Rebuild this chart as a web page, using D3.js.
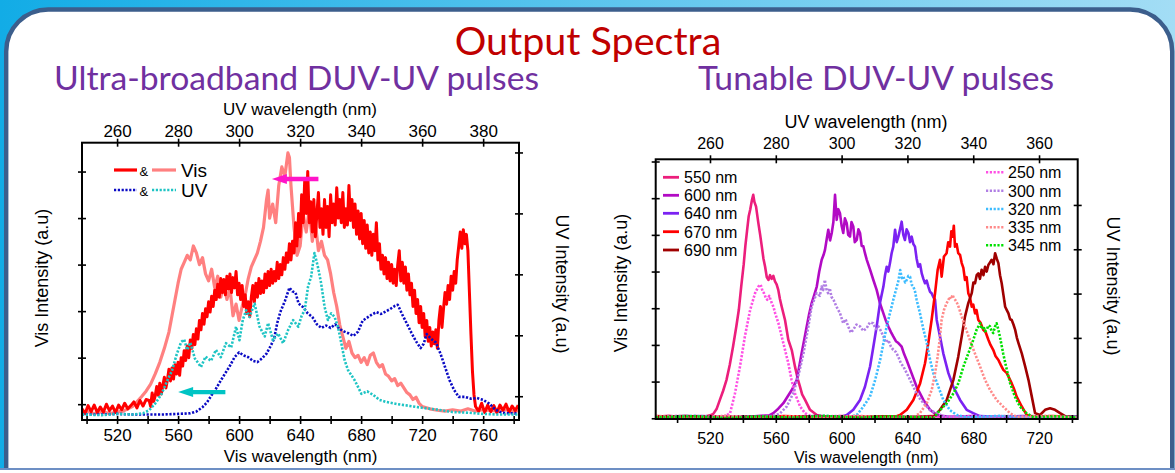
<!DOCTYPE html>
<html>
<head>
<meta charset="utf-8">
<script src="https://cdn.jsdelivr.net/npm/d3@7"></script>
<style>
  body { margin: 0; overflow: hidden; background: #fff; }
  svg { display: block; }
</style>
</head>
<body>
<svg id="chart"></svg>
<script>
const width = 1175;
const height = 473;

// ---------- left chart: ultra-broadband (Vis nm / UV nm, intensity a.u.) ----------
const visRedL = [
  [497,-1.0],[499,-2.0],[501,-0.3],[503,-1.6],[505,-0.2],[507,-1.8],[509,-0.6],[511,-1.7],[513,0.0],[515,-1.4],
  [517,-0.4],[519,-1.8],[521,-0.2],[523,-1.2],[525,0.2],[527,-1.0],[529,-0.3],[531,0.5],[533,-0.8],[535,0.8],
  [537,-0.4],[539,1.0],[541,0.8],[542,-0.5],[543,2.4],[544,0.6],[545,1.8],[546,3.8],[547,1.9],[548,4.5],
  [549,2.2],[550,4.0],[551,5.8],[552,3.5],[553,5.2],[554,7.5],[555,5.0],[556,7.8],[557,5.4],[558,8.5],
  [559,6.5],[560,9.0],[561,6.2],[562,10.0],[563,8.2],[564,11.5],[565,9.4],[566,12.5],[567,10.0],[568,13.8],
  [569,12.0],[570,15.0],[571,12.8],[572,16.2],[573,14.0],[574,18.0],[575,16.0],[576,19.5],[577,17.2],[578,20.5],
  [579,18.8],[580,22.0],[581,19.8],[582,23.2],[583,21.0],[584,24.5],[585,22.5],[586,25.8],[587,23.0],[588,27.0],
  [589,24.0],[590,26.8],[591,23.5],[592,27.5],[593,24.8],[594,28.0],[595,24.0],[596,27.2],[597,25.0],[598,28.5],
  [599,23.5],[600,26.0],[601,22.5],[602,25.5],[603,21.0],[604,23.5],[605,19.5],[606,22.0],[607,18.8],[608,23.0],
  [609,25.5],[610,22.0],[611,26.0],[612,23.0],[613,27.0],[614,23.8],[615,26.5],[616,24.0],[617,28.0],[618,25.0],
  [619,28.5],[620,25.5],[621,29.0],[622,26.0],[623,28.5],[624,26.5],[625,30.5],[626,27.0],[627,30.0],[628,27.8],
  [629,31.5],[630,29.0],[631,32.5],[632,30.5],[633,34.5],[634,31.0],[635,35.0],[636,32.5],[637,39.0],[638,34.0],
  [639,41.0],[640,36.0],[641,45.0],[642,39.0],[643,48.0],[644,41.0],[645,50.0],[646,39.0],[647,43.5],[648,37.0],
  [649,44.0],[650,36.0],[651,41.0],[652,45.5],[653,38.0],[654,42.0],[655,36.5],[656,44.0],[657,38.0],[658,42.5],
  [659,36.0],[660,45.0],[661,39.0],[662,43.0],[663,38.5],[664,46.5],[665,40.0],[666,44.0],[667,39.0],[668,45.5],
  [669,38.0],[670,42.0],[671,38.5],[672,47.0],[673,39.5],[674,44.0],[675,38.0],[676,43.0],[677,36.5],[678,41.5],
  [679,35.5],[680,41.0],[681,34.5],[682,39.5],[683,33.5],[684,38.5],[685,32.5],[686,37.0],[687,32.0],[688,36.5],
  [689,33.0],[690,39.0],[691,31.0],[692,34.5],[693,29.0],[694,32.0],[695,28.0],[696,31.5],[697,27.0],[698,30.5],
  [699,26.5],[700,30.0],[701,26.0],[702,29.0],[703,25.5],[704,30.0],[705,33.0],[706,26.5],[707,30.5],[708,26.0],
  [709,29.5],[710,24.5],[711,28.0],[712,23.5],[713,26.0],[714,21.0],[715,24.5],[716,19.5],[717,22.5],[718,17.5],
  [719,21.0],[720,16.5],[721,19.5],[722,14.5],[723,18.0],[724,13.5],[725,16.5],[726,12.5],[727,15.5],[728,13.0],
  [729,16.0],[730,12.0],[731,18.0],[732,21.0],[733,16.5],[734,20.5],[735,24.0],[736,21.5],[737,25.5],[738,22.5],
  [739,27.5],[740,24.5],[741,28.5],[742,26.0],[743,31.0],[744,34.0],[745,37.0],[746,33.5],[747,37.5],[748,34.5],
  [749,36.5],[750,33.0],[751,24.0],[752,15.0],[753,7.0],[754,2.0],[755,-0.5],[757,-1.5],[759,0.2],[761,-1.8],
  [763,-0.2],[765,-1.6],[767,-0.3],[769,-1.8],[771,-0.2],[773,-1.3],[775,0.0],[777,-1.7],[779,-0.4],[781,-1.4],
  [783,-0.2]
];
const visSalmonL = [
  [497,-1.8],[500,-1.5],[505,-2.0],[510,-1.6],[515,-2.0],[520,-1.7],[524,-1.5],[527,-1.0],[530,-0.5],[533,0.5],
  [536,1.6],[539,2.8],[542,4.3],[545,6.5],[548,9.0],[551,12.0],[554,15.5],[556,19.0],[558,22.5],[560,26.0],
  [562,29.0],[564,30.5],[566,32.0],[568,31.0],[570,34.0],[572,32.5],[574,30.0],[576,31.5],[578,28.0],[580,26.5],
  [582,29.0],[584,25.0],[586,27.5],[588,23.0],[590,26.0],[592,22.5],[594,25.0],[596,19.0],[598,21.5],[600,18.0],
  [602,21.0],[604,23.5],[606,27.0],[608,29.5],[610,31.0],[612,32.5],[614,35.0],[616,38.0],[618,44.0],[619,46.0],
  [620,40.0],[622,43.0],[624,39.0],[626,47.0],[628,51.0],[630,49.0],[632,54.0],[633,53.0],[634,47.0],[636,38.0],
  [638,32.0],[640,34.0],[642,41.0],[644,37.0],[646,42.0],[648,35.0],[650,39.0],[652,33.0],[654,35.0],[656,32.0],
  [658,31.0],[660,28.0],[662,24.0],[664,21.0],[666,17.0],[668,14.5],[670,12.0],[672,13.5],[674,11.0],[676,10.0],
  [678,10.5],[680,9.0],[682,10.0],[684,8.5],[686,10.5],[688,11.0],[690,9.0],[692,8.0],[694,8.5],[696,6.5],
  [698,6.0],[700,5.0],[702,5.5],[704,4.0],[706,4.5],[708,3.5],[710,2.5],[712,2.0],[714,1.0],[716,1.5],
  [718,0.2],[720,-0.5],[725,-1.0],[730,-1.3],[735,-1.5],[740,-1.2],[745,-1.5],[750,-1.0],[755,-1.5],[760,-1.2],
  [765,-1.4],[770,-1.5],[775,-1.2],[780,-1.6],[783,-1.4]
];
const uvBlueL = [
  [248.5,-3.0],[255,-3.0],[260,-2.9],[265,-3.0],[270,-3.0],[275,-3.0],[280,-2.9],[284,-2.8],[286,-2.5],[288,-1.8],
  [289.5,-1.0],[291,0.2],[292.5,1.3],[294,2.6],[295.5,3.8],[297,5.0],[298.5,6.4],[300,7.2],[301.5,6.7],[303,6.4],
  [304.5,5.8],[306,5.6],[307.5,6.2],[309,7.0],[310.5,8.4],[311.5,9.5],[312.5,12.0],[313.5,13.8],[315,15.6],[316.5,17.8],
  [317.5,17.2],[318.5,17.0],[319.5,15.2],[321,14.6],[322.5,13.6],[324,13.0],[325.5,11.8],[327,11.2],[328.5,11.6],[330,11.2],
  [331.5,11.8],[333,11.0],[334.5,10.6],[336,10.3],[337.5,9.9],[339,10.6],[340.5,12.4],[342,12.9],[343.5,13.4],[345,13.8],
  [346.5,13.5],[348,13.9],[349.5,14.3],[351,14.8],[352,15.0],[353.5,13.4],[355,11.9],[356.5,10.4],[358,9.0],[359.5,7.9],
  [360.5,8.6],[361.5,10.2],[363,9.4],[364.5,8.8],[366,7.0],[367.5,4.8],[369,2.6],[370.5,1.0],[372,-0.1],[374,-0.1],
  [376,-0.4],[378,-0.3],[380,-0.6],[382,-1.2],[384,-2.2],[386,-2.7],[388,-2.8],[390,-2.8],[391.7,-2.9]
];
const uvCyanL = [
  [248.5,-3.0],[255,-3.1],[260,-2.9],[265,-3.0],[268.5,-2.8],[270.5,-2.3],[272.5,-1.2],[274.5,0.3],[276.5,2.6],[278,4.2],
  [279.5,6.8],[281,8.9],[282,9.3],[283,7.6],[284,8.8],[285.5,6.2],[287.5,4.8],[289,6.5],[290.8,5.8],[292.4,7.6],
  [294,6.4],[295.7,8.7],[297.4,8.0],[299,11.4],[300.1,9.2],[301.2,12.5],[302.3,14.1],[303.4,13.0],[305.1,15.2],[306.7,11.4],
  [308.4,9.8],[309.5,12.0],[311.1,9.2],[312.8,10.3],[314.4,8.7],[316.1,10.9],[317.7,12.5],[319.4,11.4],[320.5,13.2],[321.5,14.1],
  [322.6,18.0],[323.6,19.6],[324.7,23.5],[325.8,21.3],[326.9,18.5],[328,14.7],[329.1,12.5],[330.2,13.6],[331.3,13.0],[332.4,11.4],
  [333.5,8.7],[334.6,5.9],[335.7,4.3],[337.9,2.6],[340.1,0.4],[342,0.8],[344,0.2],[346,-0.6],[348,-0.9],[352,-1.3],
  [356,-1.6],[360,-1.9],[365,-2.2],[370,-2.6],[375,-2.7],[380,-2.9],[385,-3.0],[391.7,-3.0]
];
const leftVisTicks = [520, 560, 600, 640, 680, 720, 760];
const leftVisMinor = [500, 540, 580, 620, 660, 700, 740, 780];
const leftUvTicks = [260, 280, 300, 320, 340, 360, 380];
const leftVisYTicks = [0, 10, 20, 30, 40, 50];
const leftUvYTicks = [0, 10, 20, 30, 40];

// ---------- right chart: tunable ----------
const vis550 = [
  [487,0.4],[495,0.7],[503,0.2],[511,0.6],[517,0.5],[520,0.8],[522,1.2],[524,2.5],[526,5.0],[528,7.5],
  [530,10.4],[532,14.5],[534,19.5],[536,25.0],[537.5,29.5],[539,36.0],[540.5,42.0],[541.5,47.0],[542.5,51.0],[543.5,55.0],
  [544.5,57.0],[545.5,59.5],[546.3,60.9],[547,59.0],[548,57.7],[549.4,53.2],[550.5,50.0],[551.5,46.8],[552.5,43.5],[553.5,41.3],
  [554.5,38.5],[555.5,37.7],[556.5,39.0],[557.5,38.0],[558.5,38.8],[559.5,37.3],[560.5,36.5],[561.5,35.0],[562.5,32.5],[563.6,30.4],
  [565.6,26.8],[567.6,21.4],[569.7,18.6],[571.7,14.0],[573.5,10.5],[574.7,8.6],[576,6.5],[577.8,5.0],[580.8,2.3],[584.9,0.9],
  [590,0.3],[600,0.6],[612,0.2],[625,0.5],[640,0.3],[655,0.6],[670,0.2],[685,0.5],[700,0.3],[715,0.6],[730,0.3],[743.5,0.5]
];
const vis600 = [
  [487,0.5],[500,0.2],[515,0.6],[530,0.3],[545,0.5],[556,0.8],[558.5,1.4],[561.5,2.6],[564.6,4.1],[567,5.8],
  [569.7,7.7],[572.7,10.4],[574,13.5],[575.7,17.7],[577.3,21.5],[578.8,25.0],[580.3,28.5],[581.8,31.4],[583.3,33.5],[584.9,35.9],
  [586.4,40.0],[587.9,43.2],[589,44.5],[589.9,45.9],[591,49.0],[591.9,51.4],[593,48.5],[594,50.5],[595,53.5],[596,60.9],
  [597,54.1],[598,57.0],[599,55.9],[600,52.5],[601,50.5],[602,54.5],[603.1,53.2],[604,50.0],[605.1,49.5],[606,53.5],
  [607.1,52.3],[608,48.0],[609.2,48.6],[610.2,51.5],[611.2,50.5],[612.2,47.0],[613.2,46.9],[614.2,45.0],[615.3,43.2],[617.3,40.5],
  [619.3,37.7],[621.3,35.0],[623.3,31.4],[625.4,28.6],[627,26.5],[628.4,25.0],[630,23.5],[631.4,22.3],[633,21.0],[634.5,20.5],
  [636.5,19.5],[638,17.5],[639.5,15.9],[642.5,12.3],[645.6,8.6],[649.7,5.0],[653.7,2.3],[657.8,0.9],[665,0.4],[680,0.6],
  [695,0.3],[710,0.5],[725,0.2],[743.5,0.4]
];
const vis640 = [
  [487,0.3],[505,0.6],[525,0.2],[545,0.5],[565,0.3],[585,0.6],[600,0.4],[603.1,0.9],[607.1,2.3],[611.2,5.0],
  [614.2,8.6],[617.3,14.1],[619.3,19.5],[621.3,25.0],[623.3,31.4],[625.4,35.9],[626.4,39.0],[627.4,41.3],[628.4,40.0],[629.4,42.3],
  [630.4,45.0],[631.4,46.8],[632.5,51.4],[633.5,48.0],[634.5,49.5],[635.5,51.5],[636.5,53.6],[637.5,50.0],[638.5,48.6],[639.5,51.5],
  [640.6,50.5],[641.6,48.0],[642.6,49.5],[643.6,47.5],[644.6,46.8],[645.6,43.5],[646.6,41.3],[647.7,42.0],[648.7,39.5],[649.7,38.0],
  [650.7,36.8],[651.7,37.5],[652.7,35.9],[653.7,34.5],[654.7,34.1],[655.8,33.0],[656.8,32.3],[657.8,26.8],[659.8,22.3],[661.8,17.7],
  [664.9,12.3],[667.9,8.6],[672,5.0],[676,2.3],[680,1.4],[684,0.6],[695,0.4],[710,0.6],[725,0.3],[743.5,0.5]
];
const vis670 = [
  [487,0.6],[505,0.3],[525,0.5],[545,0.2],[565,0.6],[585,0.3],[605,0.5],[620,0.3],[633,0.5],[635.5,0.9],
  [639.6,2.3],[643.6,5.0],[647.7,9.5],[650.7,15.0],[652.7,20.5],[654.7,26.8],[656.8,34.1],[658.4,40.5],[659.8,43.2],[660.8,38.6],
  [662.2,44.1],[663.8,45.0],[664.8,48.0],[665.9,46.8],[666.7,51.0],[667.5,49.5],[668.2,52.5],[668.9,46.8],[669.9,47.5],[670.9,45.0],
  [672,44.5],[673,42.3],[674,41.0],[675,37.7],[676,38.5],[677,34.1],[678,33.0],[679.1,30.4],[680,31.0],[681.1,28.6],
  [682,29.5],[683.1,26.8],[684.5,26.0],[686.1,24.1],[687.5,23.5],[689.2,21.4],[690.5,20.0],[692.2,18.6],[693.5,17.0],[695.3,15.9],
  [696.8,14.5],[698.3,13.2],[700.4,12.3],[701.8,11.0],[703.4,9.5],[704.8,8.0],[706.4,5.9],[709.5,3.2],[712.5,0.9],[716,0.4],
  [728,0.6],[743.5,0.3]
];
const vis690 = [
  [487,0.4],[505,0.6],[525,0.3],[545,0.5],[565,0.2],[585,0.6],[605,0.3],[625,0.5],[640,0.3],[652,0.5],
  [655.8,0.4],[659.8,2.3],[663.9,5.0],[667.9,10.4],[670.9,16.8],[673,22.3],[675,27.7],[677,31.4],[679.1,34.1],[680.1,37.0],
  [681.1,36.8],[682.1,39.0],[683.1,39.5],[684.1,38.0],[685.1,40.5],[686.2,39.0],[687.2,41.3],[688.2,40.0],[689.2,41.8],[690.2,42.5],
  [691.2,43.2],[692.3,42.0],[693.3,45.0],[694.3,43.5],[695.3,42.3],[696.3,39.0],[697.3,36.8],[698.4,33.5],[699.4,30.4],[700.4,29.5],
  [701.4,28.6],[702.4,27.0],[703.4,26.8],[704.5,25.5],[705.5,24.1],[706.5,22.0],[707.5,20.5],[709.5,17.7],[711.6,14.1],[713.6,10.4],
  [715.6,5.9],[717.6,1.4],[720.6,0.9],[723.7,2.3],[726.7,2.7],[729.7,2.3],[732.8,1.4],[735.8,0.6],[743.5,0.4]
];
const uv250 = [
  [243.5,2.1],[250,2.4],[255,1.9],[260,2.3],[264,2.1],[266.1,3.0],[267.6,7.5],[269.1,13.5],[270.6,20.3],[272.2,26.3],
  [273.7,30.1],[274.7,31.6],[275.4,32.0],[276,30.5],[276.4,30.1],[277,29.0],[277.4,28.6],[278,29.5],[278.8,27.8],[279.3,27.0],
  [279.8,25.6],[280.8,23.3],[281.8,20.3],[282.8,17.3],[283.8,14.3],[284.8,10.5],[285.8,7.5],[287.4,4.5],[288.9,3.0],[291,2.2],
  [300,2.4],[310,1.9],[320,2.3],[330,2.0],[340,2.4],[350,1.9],[360,2.3],[371.8,2.1]
];
const uv300 = [
  [243.5,2.2],[255,1.9],[265,2.4],[275,2.0],[280,2.5],[281.3,3.0],[283.3,4.5],[285.3,7.5],[286.8,11.3],[288.4,16.5],
  [289.9,22.6],[290.9,27.1],[292.4,30.1],[293.4,29.5],[293.9,31.6],[294.4,30.8],[294.9,33.1],[295.4,31.0],[295.9,30.1],[296.4,31.2],
  [296.9,29.3],[297.6,28.5],[298.4,27.1],[299.5,25.6],[300.5,23.3],[301.2,24.2],[302,22.6],[302.8,21.2],[303.5,21.8],[304.5,23.0],
  [305.6,22.6],[306.6,21.6],[307.6,22.2],[308.6,23.5],[309.6,23.3],[310.4,22.0],[311.2,22.6],[312,21.5],[312.7,20.3],[313.5,19.0],
  [314.2,19.5],[315,18.0],[315.7,17.3],[316.5,16.8],[317.2,15.8],[318,14.3],[318.8,13.5],[320.3,11.3],[321.8,9.0],[323.3,6.7],
  [324.9,5.3],[326.9,3.7],[328.9,3.0],[331,2.3],[340,2.0],[350,2.4],[360,2.0],[371.8,2.2]
];
const uv320 = [
  [243.5,2.0],[255,2.4],[265,1.9],[275,2.3],[285,2.0],[295,2.4],[302,2.1],[304.6,2.6],[306.6,4.5],[308.6,6.7],
  [310.2,10.5],[311.7,15.0],[312.7,18.8],[313.7,22.6],[314.7,25.6],[315.7,28.6],[316.8,31.6],[317.3,33.0],[317.8,35.3],[318.3,33.5],
  [318.8,33.8],[319.3,32.5],[319.8,33.1],[320.3,34.0],[320.8,33.8],[321.3,32.0],[321.8,31.6],[322.3,30.5],[322.8,28.6],[323.8,25.6],
  [324.9,21.8],[325.9,18.8],[326.9,15.0],[327.9,12.0],[329.4,9.0],[330.9,6.0],[332.9,3.7],[335,2.6],[338,2.1],[348,2.4],
  [358,1.9],[371.8,2.2]
];
const uv335 = [
  [243.5,2.3],[255,1.9],[265,2.4],[275,2.0],[285,2.3],[295,1.9],[305,2.4],[315,2.0],[322,2.2],[323.8,3.0],
  [325.9,5.3],[327.4,8.3],[328.4,12.0],[329.2,15.8],[329.9,20.3],[330.4,24.1],[331.1,26.3],[331.9,27.8],[332.4,28.5],[332.9,29.3],
  [333.3,28.8],[333.7,29.7],[334.1,29.0],[334.5,28.6],[335,28.0],[335.5,27.1],[336.5,24.8],[337.5,22.6],[339,19.5],[340.5,16.5],
  [342.1,13.5],[343.6,10.5],[345.1,8.3],[347.1,6.0],[349.1,4.5],[351.2,3.0],[353.2,2.2],[362,2.4],[371.8,2.0]
];
const uv345 = [
  [243.5,2.1],[255,2.3],[265,1.9],[275,2.3],[285,2.0],[295,2.4],[305,2.0],[315,2.3],[326,2.1],[327.9,1.9],
  [329.9,3.7],[332,5.3],[334,7.5],[335.5,9.8],[337,13.5],[338.5,16.5],[340,19.5],[341,21.8],[342.1,23.3],[342.6,22.0],
  [343.1,22.6],[343.6,21.5],[344.1,21.8],[344.6,22.8],[345.1,22.6],[345.6,21.5],[346.1,21.1],[346.6,22.5],[347.1,23.3],[347.6,22.0],
  [348.1,20.3],[349.1,16.5],[350.2,12.8],[351.2,9.8],[352.7,6.7],[354.2,4.5],[356.2,3.0],[358.3,2.1],[365,2.3],[371.8,2.0]
];
const rightVisTicks = [520, 560, 600, 640, 680, 720];
const rightVisMinor = [500, 540, 580, 620, 660, 700, 740];
const rightUvTicks = [260, 280, 300, 320, 340, 360];
const rightVisYTicks = [0, 10, 20, 30, 40, 50, 60, 70];
const rightUvYTicks = [10, 20, 30, 40, 50];

const visLabels = ['550 nm', '600 nm', '640 nm', '670 nm', '690 nm'];
const uvLabels = ['250 nm', '300 nm', '320 nm', '335 nm', '345 nm'];
const visColors = ['#ec1e7c', '#b20ac4', '#7b22f2', '#ff0000', '#a00000'];
const uvColors = ['#ff4fe4', '#b07ee4', '#3dbcff', '#ff8a8a', '#00e000'];

const axisFont = '"Liberation Sans", Arial, sans-serif';
const titleFont = 'Lato, "Open Sans", sans-serif';

const svg = d3.select('#chart')
  .attr('width', width)
  .attr('height', height);

// slide background + panel
const defs = svg.append('defs');
const bg = defs.append('linearGradient').attr('id', 'bg').attr('x1', '0%').attr('x2', '100%');
bg.append('stop').attr('offset', '0%').attr('stop-color', '#12ace6');
bg.append('stop').attr('offset', '100%').attr('stop-color', '#a3ddf5');
svg.append('rect').attr('width', width).attr('height', height).attr('fill', 'url(#bg)');
svg.append('rect')
  .attr('x', 6.2).attr('y', 9.5).attr('width', 1166).attr('height', 540).attr('rx', 42)
  .attr('fill', '#fff').attr('stroke', '#3c5e8c').attr('stroke-width', 4.4);
svg.append('rect').attr('x', 0).attr('y', 468).attr('width', width).attr('height', 2).attr('fill', '#6d8fc4');
svg.append('rect').attr('x', 0).attr('y', 470).attr('width', width).attr('height', 3).attr('fill', '#fff');

svg.append('text').attr('x', 588).attr('y', 55).attr('text-anchor', 'middle')
  .style('font-family', titleFont).style('font-size', '39.5px').attr('fill', '#c00000')
  .text('Output Spectra');
svg.append('text').attr('x', 54).attr('y', 89.5)
  .style('font-family', titleFont).style('font-size', '33.7px').attr('fill', '#7030a0')
  .text('Ultra-broadband DUV-UV pulses');
svg.append('text').attr('x', 698).attr('y', 89.5)
  .style('font-family', titleFont).style('font-size', '33.7px').attr('fill', '#7030a0')
  .text('Tunable DUV-UV pulses');

// ---------- helpers ----------
function drawAxis(g, gen, orient, fontSize) {
  g.call(gen);
  g.select('.domain').remove();
  g.selectAll('.tick line').attr('stroke', '#000').attr('stroke-width', 1.6);
  if (orient === 'bottom') g.selectAll('.tick line').attr('y1', -4);
  if (orient === 'top') g.selectAll('.tick line').attr('y1', 4);
  if (orient === 'left') g.selectAll('.tick line').attr('x1', 4);
  if (orient === 'right') g.selectAll('.tick line').attr('x1', -4);
  g.selectAll('.tick text').attr('fill', '#000')
    .style('font-family', axisFont).style('font-size', fontSize + 'px');
}

function label(x, y, txt, size, rot) {
  svg.append('text')
    .attr('transform', `translate(${x},${y}) rotate(${rot || 0})`)
    .attr('text-anchor', 'middle')
    .attr('dominant-baseline', rot ? 'central' : 'auto')
    .style('font-family', axisFont).style('font-size', size + 'px')
    .attr('fill', '#000')
    .text(txt);
}

function plotLine(g, data, x, y, color, w, dotted) {
  g.append('path')
    .datum(data)
    .attr('fill', 'none')
    .attr('stroke', color)
    .attr('stroke-width', w)
    .attr('stroke-linejoin', 'round')
    .attr('stroke-dasharray', dotted ? '2.2,1.6' : null)
    .attr('d', d3.line().x(d => x(d[0])).y(d => y(d[1])));
}

// ---------- left chart ----------
const L = { x0: 82, x1: 519, y0: 142.7, y1: 420 };
const xVisL = d3.scaleLinear().domain([497, 783.5]).range([L.x0, L.x1]);
const xUvL = d3.scaleLinear().domain([248.5, 391.75]).range([L.x0, L.x1]);
const yVisL = d3.scaleLinear().domain([-3.4, 56.2]).range([L.y1, L.y0]);
const yUvL = d3.scaleLinear().domain([-3.9, 41.6]).range([L.y1, L.y0]);

defs.append('clipPath').attr('id', 'clipL').append('rect')
  .attr('x', L.x0).attr('y', L.y0).attr('width', L.x1 - L.x0).attr('height', L.y1 - L.y0);
const gL = svg.append('g').attr('clip-path', 'url(#clipL)');
plotLine(gL, visSalmonL, xVisL, yVisL, '#ff8080', 3.2, false);
plotLine(gL, visRedL, xVisL, yVisL, '#ff0000', 3, false);
plotLine(gL, uvBlueL, xUvL, yUvL, '#0a0ac4', 2.6, true);
plotLine(gL, uvCyanL, xUvL, yUvL, '#1ec4c4', 2.6, true);

// arrows: which axis each pair belongs to
const arrowsL = [
  { from: 652, to: 621.5, level: 48.4, color: '#ff14c8' },
  { from: 591, to: 560, level: 2.6, color: '#00c4c4' }
];
arrowsL.forEach(a => {
  const y = yVisL(a.level), xs = xVisL(a.from), xt = xVisL(a.to);
  svg.append('line').attr('x1', xs).attr('x2', xt + 12).attr('y1', y).attr('y2', y)
    .attr('stroke', a.color).attr('stroke-width', 4.3);
  svg.append('path').attr('d', `M${xt},${y}L${xt + 15},${y - 5}L${xt + 15},${y + 5}Z`).attr('fill', a.color);
});

svg.append('rect').attr('x', L.x0).attr('y', L.y0).attr('width', L.x1 - L.x0).attr('height', L.y1 - L.y0)
  .attr('fill', 'none').attr('stroke', '#000').attr('stroke-width', 2);

drawAxis(svg.append('g').attr('transform', `translate(0,${L.y1})`),
  d3.axisBottom(xVisL).tickValues(leftVisTicks).tickSizeInner(4).tickSizeOuter(0).tickPadding(5), 'bottom', 17);
drawAxis(svg.append('g').attr('transform', `translate(0,${L.y1})`),
  d3.axisBottom(xVisL).tickValues(leftVisMinor).tickFormat('').tickSizeInner(4).tickSizeOuter(0), 'bottom', 17);
drawAxis(svg.append('g').attr('transform', `translate(0,${L.y0})`),
  d3.axisTop(xUvL).tickValues(leftUvTicks).tickSizeInner(4).tickSizeOuter(0).tickPadding(2), 'top', 17);
drawAxis(svg.append('g').attr('transform', `translate(${L.x0},0)`),
  d3.axisLeft(yVisL).tickValues(leftVisYTicks).tickFormat('').tickSizeInner(4).tickSizeOuter(0), 'left', 17);
drawAxis(svg.append('g').attr('transform', `translate(${L.x1},0)`),
  d3.axisRight(yUvL).tickValues(leftUvYTicks).tickFormat('').tickSizeInner(4).tickSizeOuter(0), 'right', 17);

label(300, 115, 'UV wavelength (nm)', 17);
label(300.5, 461.7, 'Vis wavelength (nm)', 17);
label(42, 278, 'Vis Intensity (a.u)', 18, -90);
label(562, 284, 'UV Intensity (a.u)', 18, 90);

// left legend
const legL = [
  { y: 170, a: '#ff0000', b: '#ff8080', dotted: false, text: 'Vis' },
  { y: 190, a: '#0a0ac4', b: '#1ec4c4', dotted: true, text: 'UV' }
];
legL.forEach(r => {
  [[114, 137, r.a], [152, 176, r.b]].forEach(s => {
    svg.append('line').attr('x1', s[0]).attr('x2', s[1]).attr('y1', r.y).attr('y2', r.y)
      .attr('stroke', s[2]).attr('stroke-width', r.dotted ? 2.6 : 3.2)
      .attr('stroke-dasharray', r.dotted ? '2.2,1.6' : null);
  });
  svg.append('text').attr('x', 139.5).attr('y', r.y + 5.5).style('font-family', axisFont)
    .style('font-size', '13px').text('&');
  svg.append('text').attr('x', 181).attr('y', r.y + 6.5).style('font-family', axisFont)
    .style('font-size', '19px').text(r.text);
});

// ---------- right chart ----------
const R = { x0: 655.7, x1: 1077.7, y0: 159.3, y1: 419 };
const xVisR = d3.scaleLinear().domain([487, 743.5]).range([R.x0, R.x1]);
const xUvR = d3.scaleLinear().domain([243.5, 371.75]).range([R.x0, R.x1]);
const yVisR = d3.scaleLinear().domain([-0.2, 70.6]).range([R.y1, R.y0]);
const yUvR = d3.scaleLinear().domain([1.7, 60.3]).range([R.y1, R.y0]);

defs.append('clipPath').attr('id', 'clipR').append('rect')
  .attr('x', R.x0).attr('y', R.y0).attr('width', R.x1 - R.x0).attr('height', R.y1 - R.y0);
const gR = svg.append('g').attr('clip-path', 'url(#clipR)');
[vis550, vis600, vis640, vis670, vis690].forEach((s, i) => plotLine(gR, s, xVisR, yVisR, visColors[i], 2.6, false));
[uv250, uv300, uv320, uv335, uv345].forEach((s, i) => plotLine(gR, s, xUvR, yUvR, uvColors[i], 2.6, true));

svg.append('rect').attr('x', R.x0).attr('y', R.y0).attr('width', R.x1 - R.x0).attr('height', R.y1 - R.y0)
  .attr('fill', 'none').attr('stroke', '#000').attr('stroke-width', 2);

drawAxis(svg.append('g').attr('transform', `translate(0,${R.y1})`),
  d3.axisBottom(xVisR).tickValues(rightVisTicks).tickSizeInner(4).tickSizeOuter(0).tickPadding(9.6), 'bottom', 16);
drawAxis(svg.append('g').attr('transform', `translate(0,${R.y1})`),
  d3.axisBottom(xVisR).tickValues(rightVisMinor).tickFormat('').tickSizeInner(4).tickSizeOuter(0), 'bottom', 16);
drawAxis(svg.append('g').attr('transform', `translate(0,${R.y0})`),
  d3.axisTop(xUvR).tickValues(rightUvTicks).tickSizeInner(4).tickSizeOuter(0).tickPadding(6.3), 'top', 16);
drawAxis(svg.append('g').attr('transform', `translate(${R.x0},0)`),
  d3.axisLeft(yVisR).tickValues(rightVisYTicks).tickFormat('').tickSizeInner(4).tickSizeOuter(0), 'left', 16);
drawAxis(svg.append('g').attr('transform', `translate(${R.x1},0)`),
  d3.axisRight(yUvR).tickValues(rightUvYTicks).tickFormat('').tickSizeInner(4).tickSizeOuter(0), 'right', 16);

label(866, 128.3, 'UV wavelength (nm)', 18);
label(866.3, 463.3, 'Vis wavelength (nm)', 16);
label(621, 283, 'Vis Intensity (a.u)', 18, -90);
label(1113, 286, 'UV Intensity (a.u)', 18, 90);

// right legends
const legRowsVis = [177.3, 195.3, 213.3, 231.7, 250];
const legRowsUv = [172.3, 190.7, 209, 227.3, 245.3];
visLabels.forEach((t, i) => {
  svg.append('line').attr('x1', 663).attr('x2', 679).attr('y1', legRowsVis[i]).attr('y2', legRowsVis[i])
    .attr('stroke', visColors[i]).attr('stroke-width', 2.8);
  svg.append('text').attr('x', 684).attr('y', legRowsVis[i] + 6).style('font-family', axisFont)
    .style('font-size', '16px').text(t);
});
uvLabels.forEach((t, i) => {
  svg.append('line').attr('x1', 986).attr('x2', 1005).attr('y1', legRowsUv[i]).attr('y2', legRowsUv[i])
    .attr('stroke', uvColors[i]).attr('stroke-width', 2.6).attr('stroke-dasharray', '2.2,1.6');
  svg.append('text').attr('x', 1008).attr('y', legRowsUv[i] + 6).style('font-family', axisFont)
    .style('font-size', '16px').text(t);
});
</script>
</body>
</html>
